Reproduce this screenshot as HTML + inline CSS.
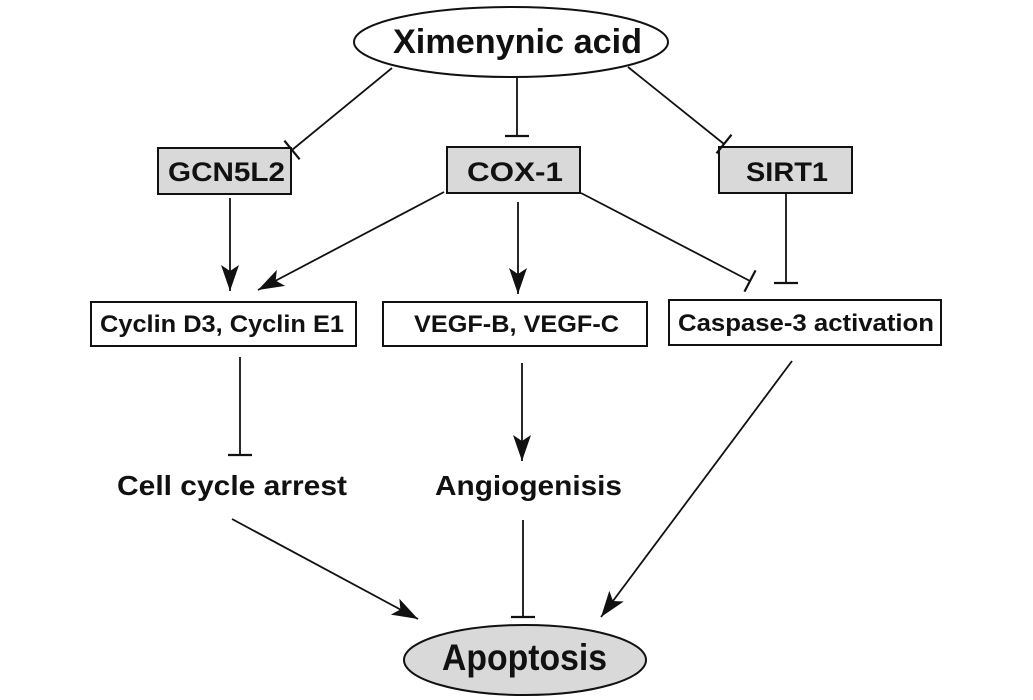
<!DOCTYPE html>
<html><head><meta charset="utf-8"><style>
html,body{margin:0;padding:0;background:#fff;}
svg{display:block;}
text{font-family:"Liberation Sans",Arial,sans-serif;font-weight:bold;fill:#111;}
</style></head><body>
<svg width="1033" height="700" viewBox="0 0 1033 700" xmlns="http://www.w3.org/2000/svg">
<defs>
<marker id="arr" markerUnits="userSpaceOnUse" markerWidth="40" markerHeight="30" refX="30" refY="15" orient="auto" viewBox="0 0 40 30">
<path d="M30,15 L4,6 L10,15 L4,24 Z" fill="#111"/>
</marker>
<marker id="tee" markerUnits="userSpaceOnUse" markerWidth="10" markerHeight="30" refX="5" refY="15" orient="auto" viewBox="0 0 10 30">
<line x1="5" y1="3" x2="5" y2="27" stroke="#111" stroke-width="2.2"/>
</marker>
</defs>
<g stroke="#111" stroke-width="1.8" fill="none">
<!-- top ellipse -->
<ellipse cx="511" cy="42" rx="157" ry="35" fill="#fff" stroke-width="2"/>
<!-- boxes row1 -->
<rect x="158" y="148" width="133" height="46" fill="#d9d9d9" stroke-width="2"/>
<rect x="447" y="147" width="133" height="46" fill="#d9d9d9" stroke-width="2"/>
<rect x="719" y="147" width="133" height="46" fill="#d9d9d9" stroke-width="2"/>
<!-- boxes row2 -->
<rect x="91" y="302" width="265" height="44" fill="#fff" stroke-width="2"/>
<rect x="383" y="302" width="264" height="44" fill="#fff" stroke-width="2"/>
<rect x="669" y="300" width="272" height="45" fill="#fff" stroke-width="2"/>
<!-- apoptosis -->
<ellipse cx="525" cy="660" rx="121" ry="35" fill="#d9d9d9" stroke-width="2"/>
<!-- connectors -->
<line x1="392" y1="68" x2="292" y2="150" marker-end="url(#tee)"/>
<line x1="517" y1="78" x2="517" y2="136" marker-end="url(#tee)"/>
<line x1="628" y1="67" x2="724" y2="144" marker-end="url(#tee)"/>
<line x1="230" y1="198" x2="230" y2="291" marker-end="url(#arr)"/>
<line x1="444" y1="192" x2="258" y2="290" marker-end="url(#arr)"/>
<line x1="518" y1="202" x2="518" y2="294" marker-end="url(#arr)"/>
<line x1="581" y1="193" x2="750" y2="281" marker-end="url(#tee)"/>
<line x1="786" y1="193" x2="786" y2="283" marker-end="url(#tee)"/>
<line x1="240" y1="357" x2="240" y2="455" marker-end="url(#tee)"/>
<line x1="522" y1="363" x2="522" y2="461" marker-end="url(#arr)"/>
<line x1="232" y1="519" x2="418" y2="619" marker-end="url(#arr)"/>
<line x1="523" y1="520" x2="523" y2="617" marker-end="url(#tee)"/>
<line x1="792" y1="361" x2="601" y2="617" marker-end="url(#arr)"/>
</g>
<text x="393" y="53" font-size="34" textLength="249" lengthAdjust="spacingAndGlyphs">Ximenynic acid</text>
<text x="168" y="181" font-size="27" textLength="117" lengthAdjust="spacingAndGlyphs">GCN5L2</text>
<text x="467" y="181" font-size="27" textLength="96" lengthAdjust="spacingAndGlyphs">COX-1</text>
<text x="746" y="181" font-size="27" textLength="82" lengthAdjust="spacingAndGlyphs">SIRT1</text>
<text x="100" y="332" font-size="24" textLength="244" lengthAdjust="spacingAndGlyphs">Cyclin D3, Cyclin E1</text>
<text x="414" y="332" font-size="24" textLength="205" lengthAdjust="spacingAndGlyphs">VEGF-B, VEGF-C</text>
<text x="678" y="331" font-size="24" textLength="256" lengthAdjust="spacingAndGlyphs">Caspase-3 activation</text>
<text x="117" y="495" font-size="28" textLength="230" lengthAdjust="spacingAndGlyphs">Cell cycle arrest</text>
<text x="435" y="495" font-size="28" textLength="187" lengthAdjust="spacingAndGlyphs">Angiogenisis</text>
<text x="442" y="670" font-size="37" textLength="165" lengthAdjust="spacingAndGlyphs">Apoptosis</text>
</svg>
</body></html>
